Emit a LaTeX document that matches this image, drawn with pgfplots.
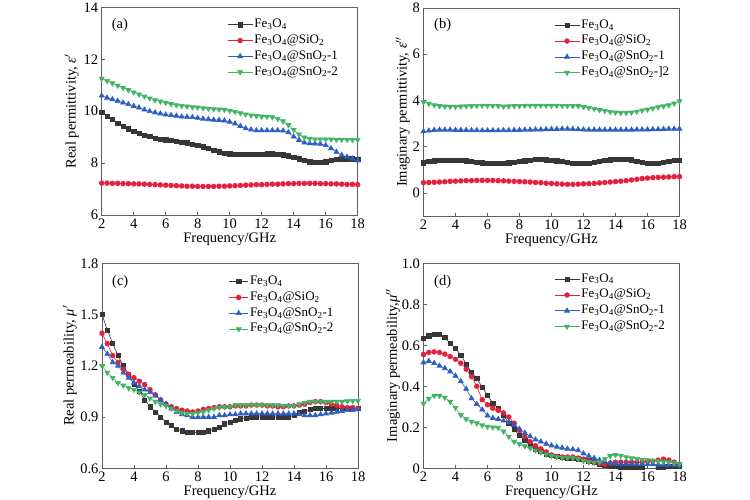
\documentclass[border=0pt]{standalone}
\usepackage{fontspec}
\setmainfont{Liberation Serif}
\usepackage{pgfplots}
\usepackage{pgfplotstable}
\pgfplotsset{compat=1.18}
\definecolor{cK}{RGB}{55,55,55}
\definecolor{cR}{RGB}{228,32,62}
\definecolor{cB}{RGB}{45,95,195}
\definecolor{cG}{RGB}{65,180,100}
\definecolor{cAx}{RGB}{95,95,95}

\pgfplotstableread{
x k r b g
2.000 9.97 7.23 10.60 11.26
2.333 9.82 7.23 10.52 11.17
2.667 9.68 7.22 10.46 11.08
3.000 9.55 7.22 10.40 10.99
3.333 9.43 7.21 10.33 10.90
3.667 9.32 7.21 10.27 10.82
4.000 9.22 7.20 10.20 10.73
4.333 9.14 7.20 10.14 10.65
4.667 9.08 7.19 10.06 10.57
5.000 9.02 7.18 10.00 10.50
5.333 8.97 7.17 9.95 10.43
5.667 8.93 7.16 9.91 10.38
6.000 8.90 7.15 9.87 10.33
6.333 8.88 7.14 9.85 10.28
6.667 8.85 7.13 9.82 10.24
7.000 8.81 7.12 9.79 10.21
7.333 8.78 7.11 9.78 10.19
7.667 8.74 7.11 9.77 10.16
8.000 8.69 7.10 9.74 10.15
8.333 8.63 7.10 9.71 10.12
8.667 8.57 7.10 9.69 10.10
9.000 8.50 7.10 9.67 10.08
9.333 8.44 7.11 9.66 10.07
9.667 8.39 7.11 9.64 10.06
10.000 8.36 7.12 9.59 10.02
10.333 8.34 7.13 9.52 9.98
10.667 8.33 7.14 9.43 9.93
11.000 8.33 7.15 9.34 9.88
11.333 8.33 7.16 9.29 9.84
11.667 8.34 7.17 9.26 9.82
12.000 8.35 7.17 9.26 9.80
12.333 8.36 7.18 9.26 9.79
12.667 8.36 7.19 9.26 9.77
13.000 8.34 7.19 9.26 9.71
13.333 8.32 7.20 9.25 9.62
13.667 8.28 7.21 9.19 9.47
14.000 8.23 7.21 9.02 9.28
14.333 8.17 7.22 8.89 9.11
14.667 8.10 7.22 8.79 8.99
15.000 8.05 7.22 8.76 8.94
15.333 8.03 7.22 8.75 8.92
15.667 8.03 7.21 8.74 8.92
16.000 8.05 7.21 8.69 8.92
16.333 8.10 7.20 8.57 8.92
16.667 8.14 7.20 8.43 8.91
17.000 8.17 7.19 8.31 8.91
17.333 8.17 7.18 8.24 8.90
17.667 8.17 7.18 8.17 8.90
18.000 8.16 7.17 8.10 8.90
}\tabA

\pgfplotstableread{
x k r b g
2.000 1.30 0.44 2.66 3.93
2.333 1.35 0.45 2.69 3.86
2.667 1.39 0.46 2.72 3.80
3.000 1.41 0.47 2.73 3.76
3.333 1.42 0.48 2.73 3.74
3.667 1.42 0.50 2.73 3.73
4.000 1.42 0.51 2.72 3.73
4.333 1.41 0.52 2.72 3.74
4.667 1.39 0.53 2.72 3.75
5.000 1.36 0.53 2.71 3.76
5.333 1.33 0.54 2.71 3.77
5.667 1.30 0.54 2.70 3.78
6.000 1.28 0.54 2.70 3.78
6.333 1.27 0.54 2.70 3.77
6.667 1.27 0.53 2.70 3.76
7.000 1.28 0.52 2.71 3.74
7.333 1.30 0.51 2.71 3.75
7.667 1.33 0.50 2.72 3.76
8.000 1.36 0.49 2.72 3.77
8.333 1.39 0.48 2.73 3.78
8.667 1.42 0.47 2.73 3.78
9.000 1.44 0.45 2.74 3.78
9.333 1.44 0.44 2.74 3.78
9.667 1.43 0.42 2.75 3.78
10.000 1.41 0.41 2.76 3.78
10.333 1.39 0.39 2.76 3.78
10.667 1.36 0.38 2.77 3.77
11.000 1.32 0.37 2.77 3.77
11.333 1.29 0.37 2.76 3.76
11.667 1.27 0.38 2.75 3.76
12.000 1.27 0.39 2.74 3.72
12.333 1.29 0.40 2.73 3.68
12.667 1.32 0.41 2.73 3.64
13.000 1.36 0.43 2.73 3.59
13.333 1.40 0.45 2.73 3.55
13.667 1.43 0.47 2.73 3.51
14.000 1.45 0.49 2.73 3.48
14.333 1.46 0.51 2.73 3.46
14.667 1.46 0.53 2.73 3.46
15.000 1.43 0.56 2.73 3.48
15.333 1.38 0.59 2.74 3.52
15.667 1.33 0.62 2.74 3.57
16.000 1.29 0.64 2.74 3.61
16.333 1.27 0.66 2.75 3.66
16.667 1.28 0.67 2.75 3.71
17.000 1.31 0.68 2.76 3.75
17.333 1.35 0.69 2.77 3.80
17.667 1.40 0.70 2.77 3.87
18.000 1.42 0.70 2.77 3.97
}\tabB

\pgfplotstableread{
x k r b g
2.000 1.50 1.39 1.31 1.20
2.333 1.41 1.33 1.27 1.16
2.667 1.33 1.26 1.22 1.13
3.000 1.26 1.22 1.20 1.10
3.333 1.20 1.18 1.16 1.085
3.667 1.15 1.15 1.13 1.07
4.000 1.09 1.13 1.10 1.06
4.333 1.05 1.11 1.08 1.045
4.667 1.00 1.09 1.06 1.03
5.000 0.96 1.06 1.045 1.01
5.333 0.93 1.03 1.025 0.99
5.667 0.90 1.00 1.00 0.975
6.000 0.87 0.975 0.975 0.965
6.333 0.85 0.96 0.95 0.95
6.667 0.83 0.95 0.93 0.935
7.000 0.82 0.94 0.915 0.925
7.333 0.81 0.935 0.91 0.92
7.667 0.81 0.93 0.90 0.92
8.000 0.81 0.935 0.90 0.925
8.333 0.81 0.945 0.90 0.93
8.667 0.82 0.95 0.90 0.94
9.000 0.83 0.955 0.90 0.95
9.333 0.84 0.96 0.91 0.955
9.667 0.86 0.96 0.91 0.96
10.000 0.87 0.96 0.915 0.96
10.333 0.88 0.965 0.915 0.97
10.667 0.89 0.965 0.92 0.97
11.000 0.895 0.965 0.92 0.97
11.333 0.90 0.97 0.92 0.97
11.667 0.90 0.97 0.92 0.97
12.000 0.90 0.97 0.92 0.97
12.333 0.90 0.965 0.92 0.97
12.667 0.90 0.965 0.92 0.97
13.000 0.90 0.96 0.92 0.97
13.333 0.90 0.96 0.92 0.966
13.667 0.90 0.965 0.92 0.965
14.000 0.91 0.965 0.92 0.966
14.333 0.925 0.97 0.915 0.975
14.667 0.935 0.975 0.91 0.985
15.000 0.945 0.985 0.91 0.99
15.333 0.95 0.99 0.91 0.99
15.667 0.95 0.99 0.915 0.99
16.000 0.95 0.985 0.92 0.99
16.333 0.95 0.975 0.925 0.99
16.667 0.95 0.97 0.93 0.99
17.000 0.95 0.96 0.935 0.99
17.333 0.95 0.955 0.94 0.993
17.667 0.95 0.955 0.94 0.995
18.000 0.95 0.95 0.945 0.995
}\tabC

\pgfplotstableread{
x k r b g
2.000 0.633 0.555 0.516 0.315
2.333 0.646 0.565 0.523 0.340
2.667 0.652 0.568 0.513 0.355
3.000 0.652 0.565 0.500 0.355
3.333 0.638 0.557 0.488 0.345
3.667 0.610 0.545 0.472 0.325
4.000 0.584 0.532 0.451 0.295
4.333 0.553 0.513 0.424 0.260
4.667 0.508 0.484 0.387 0.240
5.000 0.468 0.447 0.341 0.228
5.333 0.438 0.400 0.313 0.220
5.667 0.395 0.335 0.286 0.210
6.000 0.357 0.310 0.257 0.203
6.333 0.318 0.293 0.245 0.200
6.667 0.292 0.283 0.240 0.198
7.000 0.257 0.270 0.232 0.180
7.333 0.221 0.250 0.224 0.155
7.667 0.189 0.220 0.211 0.130
8.000 0.160 0.185 0.192 0.118
8.333 0.135 0.155 0.173 0.108
8.667 0.111 0.130 0.156 0.098
9.000 0.095 0.110 0.140 0.088
9.333 0.082 0.095 0.130 0.078
9.667 0.070 0.080 0.119 0.068
10.000 0.062 0.065 0.111 0.060
10.333 0.058 0.058 0.105 0.055
10.667 0.052 0.055 0.100 0.052
11.000 0.050 0.055 0.095 0.050
11.333 0.048 0.055 0.092 0.050
11.667 0.046 0.050 0.088 0.045
12.000 0.042 0.045 0.072 0.036
12.333 0.037 0.035 0.060 0.030
12.667 0.030 0.030 0.050 0.028
13.000 0.022 0.025 0.040 0.030
13.333 0.015 0.020 0.032 0.045
13.667 0.010 0.025 0.026 0.060
14.000 0.008 0.030 0.022 0.065
14.333 0.007 0.030 0.020 0.062
14.667 0.007 0.030 0.020 0.055
15.000 0.007 0.030 0.020 0.050
15.333 0.006 0.030 0.020 0.046
15.667 0.004 0.030 0.020 0.042
16.000 -0.005 0.035 0.020 0.040
16.333 -0.005 0.035 0.019 0.038
16.667 0.004 0.040 0.018 0.035
17.000 0.006 0.045 0.018 0.032
17.333 0.008 0.040 0.017 0.030
17.667 0.010 0.030 0.017 0.025
18.000 0.012 0.020 0.016 0.020
}\tabD

\newcommand{\fe}{Fe\textsubscript{3}O\textsubscript{4}}
\pgfplotsset{
  sK/.style={color=cK, mark=square*, mark size=2.1pt},
  sR/.style={color=cR, mark=*, mark size=2.4pt},
  sB/.style={color=cB, mark=triangle*, mark size=2.9pt},
  sG/.style={color=cG, mark=triangle*, mark size=2.9pt, mark options={rotate=180}},
  legline/.style={legend image code/.code={%
    \draw[mark repeat=2,mark phase=2,##1] plot coordinates {(0pt,0pt) (#1/2,0pt) (#1,0pt)};}},
  panel/.style={
    scale only axis, width=256pt,
    xmin=2, xmax=18, xtick={2,4,...,18},
    tick align=inside, xtick pos=left, ytick pos=left,
    major tick length=3pt,
    axis line style={draw=cAx, line width=0.8pt},
    every tick/.style={cAx, line width=0.6pt},
    tick label style={font=\fontsize{14.5}{17}\selectfont},
    label style={font=\fontsize{14.5}{17}\selectfont},
    ylabel style={anchor=center, text height=10pt, text depth=3pt, inner sep=0pt},
    /pgf/number format/assume math mode=true,
    legend style={draw=none, fill=none, font=\fontsize{13}{15}\selectfont,
      anchor=north west, inner sep=0pt, row sep=0pt,
      nodes={inner sep=1.5pt, text height=9.3pt, text depth=3.5pt}},
    legend cell align=left,
    legline=25pt,
    every axis plot/.append style={line width=0.6pt},
    xlabel={Frequency/GHz},
    xlabel style={at={(axis description cs:0.5,0)}, anchor=north, yshift=-14pt},
  },
}

\begin{document}
\begin{tikzpicture}
\useasboundingbox (0pt,0pt) rectangle (750pt,500pt);

% (a)
\begin{axis}[panel, at={(101.7pt,285pt)}, anchor=south west, height=207.5pt,
  ymin=6, ymax=14, ytick={6,8,10,12,14},
  ylabel={Real permittivity, \textit{ε}$'$},
  ylabel style={at={(axis description cs:-0.116,0.5)}},
  legend style={at={(0.49,0.956)}}]
\addplot[sK] table[x=x,y=k]{\tabA};
\addplot[sR] table[x=x,y=r]{\tabA};
\addplot[sB] table[x=x,y=b]{\tabA};
\addplot[sG] table[x=x,y=g]{\tabA};
\legend{\fe, \fe@SiO\textsubscript{2}, \fe@SnO\textsubscript{2}-1, \fe@SnO\textsubscript{2}-2}
\node[anchor=west, font=\fontsize{14.5}{17}\selectfont] at (rel axis cs:0.026,0.916) {(a)};
\end{axis}

% (b)
\begin{axis}[panel, at={(423.5pt,284pt)}, anchor=south west, height=208pt,
  ymin=-1, ymax=8, ytick={0,2,4,6,8},
  ylabel={Imaginary permittivity, \textit{ε}$''$},
  ylabel style={at={(axis description cs:-0.08,0.5)}},
  legend style={at={(0.51,0.956)}}]
\addplot[sK] table[x=x,y=k]{\tabB};
\addplot[sR] table[x=x,y=r]{\tabB};
\addplot[sB] table[x=x,y=b]{\tabB};
\addplot[sG] table[x=x,y=g]{\tabB};
\legend{\fe, \fe@SiO\textsubscript{2}, \fe@SnO\textsubscript{2}-1, \fe@SnO\textsubscript{2}-]2}
\node[anchor=west, font=\fontsize{14.5}{17}\selectfont] at (rel axis cs:0.028,0.916) {(b)};
\end{axis}

% (c)
\begin{axis}[panel, at={(102pt,31.7pt)}, anchor=south west, height=205pt,
  ymin=0.6, ymax=1.8, ytick={0.6,0.9,1.2,1.5,1.8},
  yticklabels={0.6,0.9,1.2,1.5,1.8},
  ylabel={Real permeability, \textit{μ}$'$},
  ylabel style={at={(axis description cs:-0.125,0.5)}},
  legline=19pt,
  legend style={at={(0.495,0.95)}}]
\addplot[sK] table[x=x,y=k]{\tabC};
\addplot[sR] table[x=x,y=r]{\tabC};
\addplot[sB] table[x=x,y=b]{\tabC};
\addplot[sG] table[x=x,y=g]{\tabC};
\legend{\fe, \fe@SiO\textsubscript{2}, \fe@SnO\textsubscript{2}-1, \fe@SnO\textsubscript{2}-2}
\node[anchor=west, font=\fontsize{14.5}{17}\selectfont] at (rel axis cs:0.026,0.909) {(c)};
\end{axis}

% (d)
\begin{axis}[panel, at={(423.5pt,31.7pt)}, anchor=south west, height=205pt,
  ymin=0, ymax=1.0, ytick={0,0.2,0.4,0.6,0.8,1.0},
  yticklabels={0,0.2,0.4,0.6,0.8,1.0},
  ylabel={Imaginary permeability,\textit{μ}$''$},
  ylabel style={at={(axis description cs:-0.118,0.5)}},
  legend style={at={(0.51,0.962)}}]
\addplot[sK] table[x=x,y=k]{\tabD};
\addplot[sR] table[x=x,y=r]{\tabD};
\addplot[sB] table[x=x,y=b]{\tabD};
\addplot[sG] table[x=x,y=g]{\tabD};
\legend{\fe, \fe@SiO\textsubscript{2}, \fe@SnO\textsubscript{2}-1, \fe@SnO\textsubscript{2}-2}
\node[anchor=west, font=\fontsize{14.5}{17}\selectfont] at (rel axis cs:0.028,0.909) {(d)};
\end{axis}
\end{tikzpicture}
\end{document}
